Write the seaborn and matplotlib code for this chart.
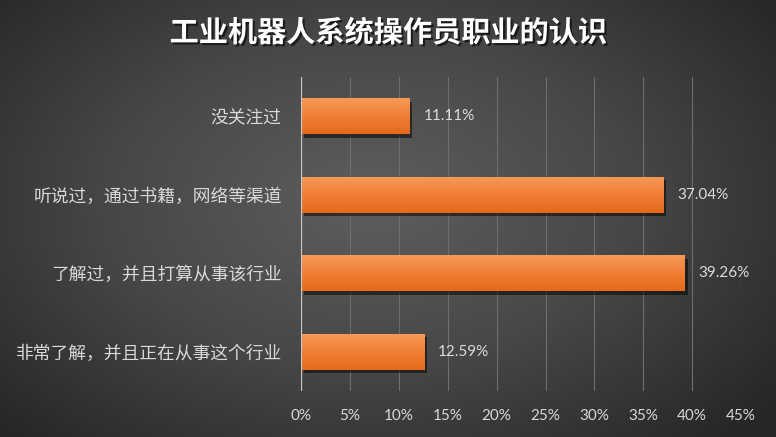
import numpy as np
import pandas as pd
import matplotlib
matplotlib.use("Agg")
import matplotlib.pyplot as plt
import matplotlib.patheffects as pe
from matplotlib.colors import LinearSegmentedColormap
import seaborn as sns

title = "工业机器人系统操作员职业的认识"
categories = ["没关注过", "听说过，通过书籍，网络等渠道", "了解过，并且打算从事该行业", "非常了解，并且正在从事这个行业"]
values = [11.11, 37.04, 39.26, 12.59]
xticks = [0, 5, 10, 15, 20, 25, 30, 35, 40, 45]

sns.set_theme(style="white")
plt.rcParams["font.family"] = ["Noto Sans CJK SC", "DejaVu Sans"]

fig = plt.figure(figsize=(7.76, 4.37), dpi=100)

# radial dark-grey background
bg = fig.add_axes([0, 0, 1, 1], zorder=-10)
yy, xx = np.mgrid[0:437, 0:776]
r = np.sqrt(((xx - 370) / 520.0) ** 2 + ((yy - 200) / 330.0) ** 2)
r = np.clip(r, 0, 1)
bg_cmap = LinearSegmentedColormap.from_list("bg", ["#5e5e5e", "#474747", "#262626"])
bg.imshow(r, cmap=bg_cmap, vmin=0, vmax=1, aspect="auto", extent=[0, 1, 0, 1])
bg.set_axis_off()

ax = fig.add_axes([0.388, 0.105, 0.567, 0.719])
ax.set_facecolor("none")

df = pd.DataFrame({"category": categories, "value": values})
sns.barplot(data=df, x="value", y="category", orient="y", color="#ef7b2f",
            width=0.46, linewidth=0, edgecolor="none", ax=ax, zorder=3)

# vertical gradient fill + soft shadow for each bar
bar_cmap = LinearSegmentedColormap.from_list("bar", ["#f89a5a", "#f07f35", "#e56a1a"])
grad = np.linspace(0, 1, 64).reshape(-1, 1)
for patch in ax.patches:
    patch.set_path_effects([pe.SimplePatchShadow(offset=(2, -2.5), shadow_rgbFace="black", alpha=0.5),
                            pe.Normal()])
    x0, y0 = patch.get_x(), patch.get_y()
    w, h = patch.get_width(), patch.get_height()
    im = ax.imshow(grad, cmap=bar_cmap, aspect="auto",
                   extent=[x0, x0 + w, y0 + h, y0], zorder=4)
    im.set_clip_path(patch)

for i, v in enumerate(values):
    ax.text(v + 1.4, i, f"{v:.2f}%", va="center", ha="left", color="#dcdcdc",
            fontsize=11, family=["Lato", "DejaVu Sans"], zorder=5)

ax.set_xlim(0, 45)
ax.set_ylim(3.5, -0.5)
ax.set_xticks(xticks)
ax.set_xticklabels([f"{t}%" for t in xticks], color="#d9d9d9", fontsize=11,
                   family=["Lato", "DejaVu Sans"])
ax.tick_params(axis="x", length=0, pad=13)
ax.tick_params(axis="y", length=0, pad=14)
for lbl in ax.get_yticklabels():
    lbl.set_color("#d9d9d9")
    lbl.set_fontsize(12.8)
ax.set_xlabel("")
ax.set_ylabel("")
ax.grid(axis="x", color="#6e6e6e", linewidth=0.8, zorder=0)
ax.set_axisbelow(True)
for s in ax.spines.values():
    s.set_visible(False)
ax.axvline(0, color="#c8c8c8", linewidth=1.6, zorder=6)

fig.text(0.5, 0.925, title, ha="center", va="center", color="white",
         fontsize=21, fontweight="bold",
         path_effects=[pe.withSimplePatchShadow(offset=(1.5, -1.5), shadow_rgbFace="black", alpha=0.6)])

fig.savefig("out.png", dpi=100)
